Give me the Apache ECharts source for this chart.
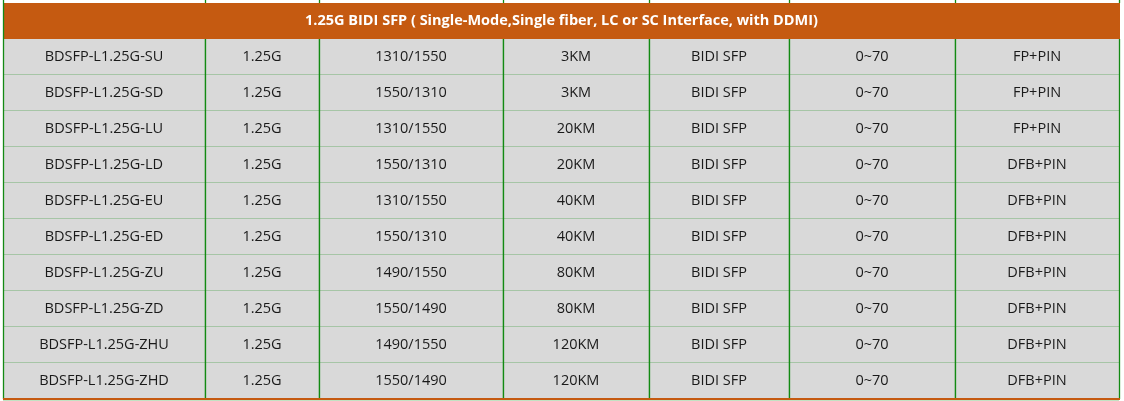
<!DOCTYPE html><html><head><meta charset="utf-8"><script src="https://cdn.jsdelivr.net/npm/echarts@6/dist/echarts.min.js"></script>
<style>html,body{margin:0;padding:0;background:#fff}#c{width:1124px;height:401px}</style></head><body><div id="c"></div>
<script>
const title = '1.25G BIDI SFP ( Single-Mode,Single fiber, LC or SC Interface, with DDMI)';
const models = ['BDSFP-L1.25G-SU','BDSFP-L1.25G-SD','BDSFP-L1.25G-LU','BDSFP-L1.25G-LD','BDSFP-L1.25G-EU','BDSFP-L1.25G-ED','BDSFP-L1.25G-ZU','BDSFP-L1.25G-ZD','BDSFP-L1.25G-ZHU','BDSFP-L1.25G-ZHD'];
const rates = ['1.25G','1.25G','1.25G','1.25G','1.25G','1.25G','1.25G','1.25G','1.25G','1.25G'];
const wavelengths = ['1310/1550','1550/1310','1310/1550','1550/1310','1310/1550','1550/1310','1490/1550','1550/1490','1490/1550','1550/1490'];
const distances = ['3KM','3KM','20KM','20KM','40KM','40KM','80KM','80KM','120KM','120KM'];
const types = ['BIDI SFP','BIDI SFP','BIDI SFP','BIDI SFP','BIDI SFP','BIDI SFP','BIDI SFP','BIDI SFP','BIDI SFP','BIDI SFP'];
const temps = ['0~70','0~70','0~70','0~70','0~70','0~70','0~70','0~70','0~70','0~70'];
const lasers = ['FP+PIN','FP+PIN','FP+PIN','DFB+PIN','DFB+PIN','DFB+PIN','DFB+PIN','DFB+PIN','DFB+PIN','DFB+PIN'];
const columns = [models, rates, wavelengths, distances, types, temps, lasers];

// layout
const EDGES = [3,205,319,503,649,789,955,1119];
const HEAD_TOP = 3, HEAD_BOT = 39, ROW_H = 36;
const data = [];
columns.forEach((col,ci)=>col.forEach((v,ri)=>data.push([ci,ri,v])));
const chart = echarts.init(document.getElementById('c'));
const GREEN = '#138a13';
chart.setOption({
  animation:false,
  grid:{left:0,right:0,top:0,bottom:0},
  xAxis:{type:'value',min:0,max:1124,show:false},
  yAxis:{type:'value',min:0,max:401,inverse:true,show:false},
  series:[
  {type:'custom',data:data,z:1,renderItem:(p,api)=>{
    const ci=api.value(0),ri=api.value(1),txt=data[p.dataIndex][2];
    const y0=HEAD_BOT+ri*ROW_H;
    const a=api.coord([EDGES[ci],y0]),b=api.coord([EDGES[ci+1],y0+ROW_H]);
    return {type:'group',children:[
      {type:'rect',shape:{x:a[0],y:a[1],width:b[0]-a[0],height:b[1]-a[1]},style:{fill:'#d9d9d9'},
       textContent:{style:{text:txt,fill:'#1a1a1a',font:'14.5px "Open Sans"'}},textConfig:{position:'inside'}},
      {type:'line',shape:{x1:a[0]+0.5,y1:a[1],x2:a[0]+0.5,y2:b[1]},style:{stroke:GREEN,lineWidth:1.3}},
      {type:'line',shape:{x1:b[0]+0.5,y1:a[1],x2:b[0]+0.5,y2:b[1]},style:{stroke:GREEN,lineWidth:1.3}},
      {type:'line',shape:{x1:a[0],y1:b[1]+0.5,x2:b[0],y2:b[1]+0.5},style:{stroke:GREEN,lineWidth:1.3}}
    ]};
  }},
  {type:'custom',data:[[0]],z:2,renderItem:(p,api)=>{
    const a=api.coord([EDGES[0],HEAD_TOP]),b=api.coord([EDGES[7],HEAD_BOT]);
    const kids=[{type:'rect',shape:{x:a[0],y:a[1],width:b[0]-a[0]+1,height:b[1]-a[1]},style:{fill:'#c55a11'},
      textContent:{style:{text:title,fill:'#fff',font:'bold 14.5px "Open Sans"'}},textConfig:{position:'inside'}}];
    for(let i=0;i<EDGES.length;i++){const t=api.coord([EDGES[i],0]);kids.push({type:'line',shape:{x1:t[0]+0.5,y1:0,x2:t[0]+0.5,y2:a[1]},style:{stroke:GREEN,lineWidth:1.3}});}
    kids.push({type:'line',shape:{x1:a[0]+0.5,y1:a[1],x2:a[0]+0.5,y2:b[1]},style:{stroke:GREEN,lineWidth:1.3}});
    kids.push({type:'line',shape:{x1:a[0],y1:399,x2:b[0]+1,y2:399},style:{stroke:'#c55a11',lineWidth:2}});
    return {type:'group',children:kids};
  }}]
});
</script></body></html>
